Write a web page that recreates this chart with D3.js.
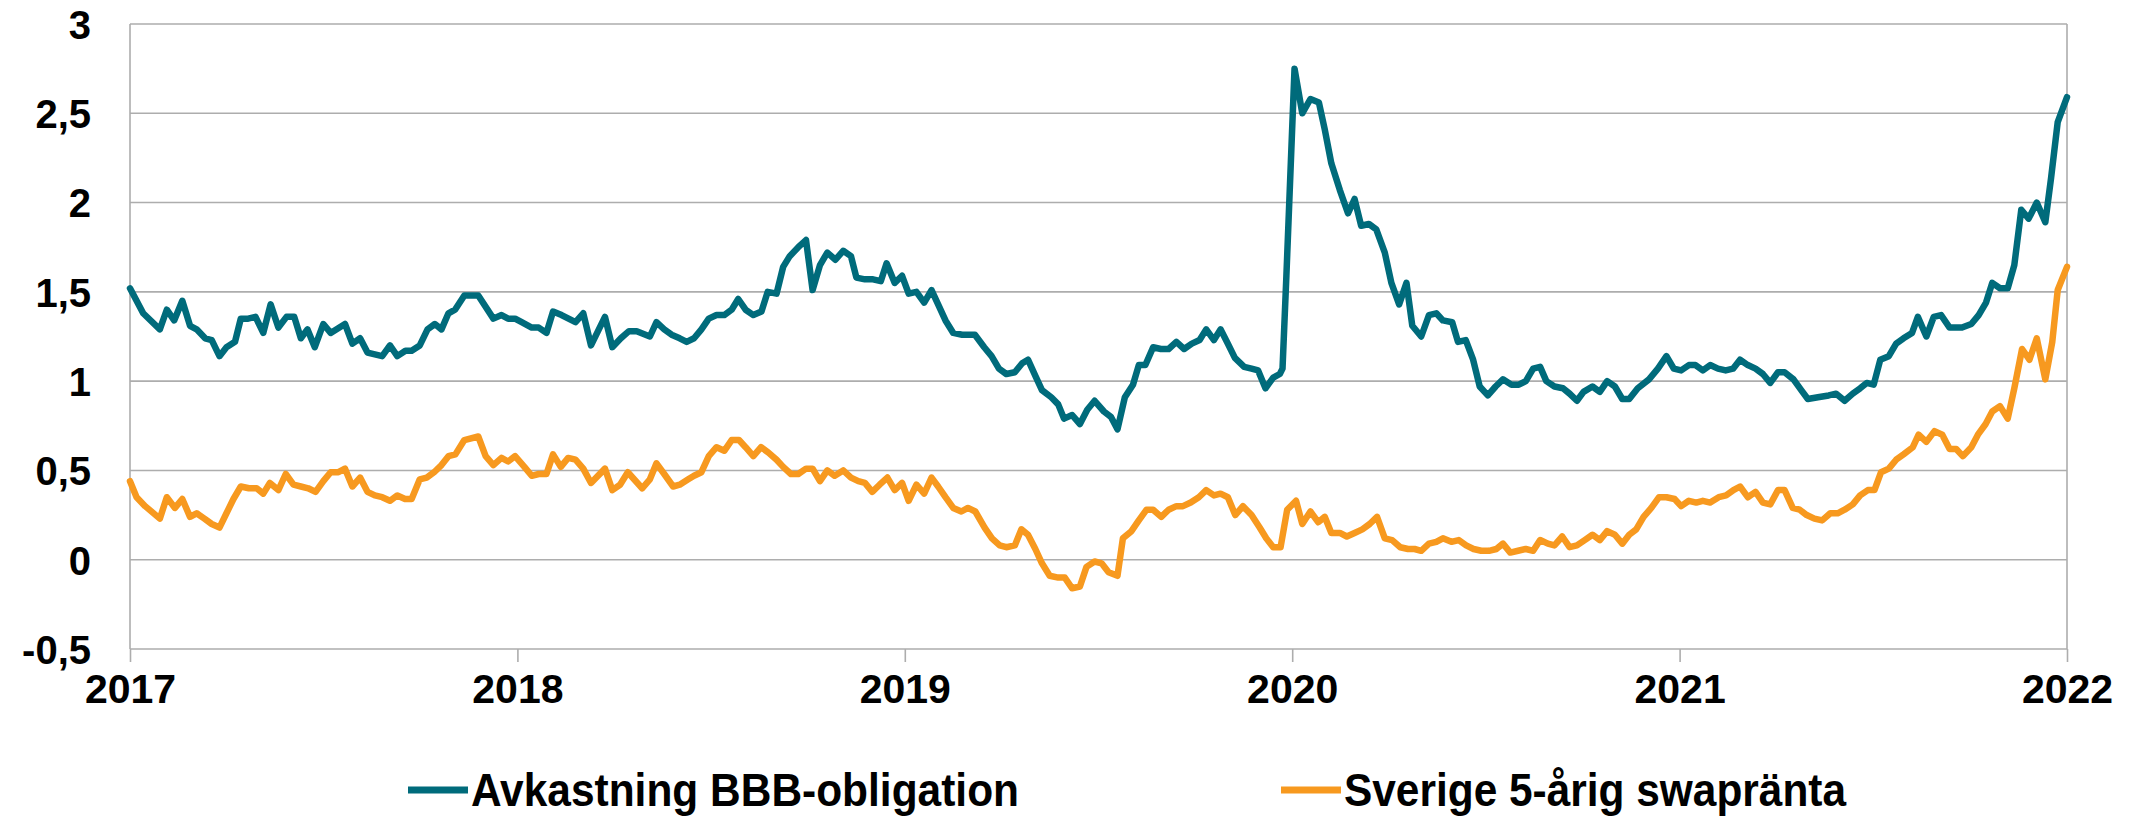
<!DOCTYPE html>
<html>
<head>
<meta charset="utf-8">
<script src="https://cdn.jsdelivr.net/npm/d3@7"></script>
<style>
  body { margin: 0; background: #fff; }
  svg text { font-family: "Liberation Sans", Arial, sans-serif; font-weight: bold; fill: #000; }
</style>
</head>
<body>
<div id="chart"></div>
<script>
// y-axis ticks and x-axis years
const yTicks = [-0.5, 0, 0.5, 1, 1.5, 2, 2.5, 3];
const years = [2017, 2018, 2019, 2020, 2021, 2022];
const seriesNames = ["Avkastning BBB-obligation", "Sverige 5-årig swapränta"];

// Avkastning BBB-obligation, [year, %]
const bbb = [
  [2017.000,1.52],[2017.034,1.38],[2017.077,1.29],[2017.095,1.40],[2017.114,1.34],[2017.135,1.45],[2017.155,1.31],
  [2017.172,1.29],[2017.194,1.24],[2017.211,1.23],[2017.231,1.14],[2017.249,1.19],[2017.271,1.22],[2017.286,1.35],
  [2017.305,1.35],[2017.324,1.36],[2017.344,1.27],[2017.363,1.43],[2017.383,1.30],[2017.404,1.36],[2017.424,1.36],
  [2017.441,1.24],[2017.458,1.29],[2017.477,1.19],[2017.499,1.32],[2017.518,1.27],[2017.555,1.32],[2017.574,1.21],
  [2017.594,1.24],[2017.613,1.16],[2017.651,1.14],[2017.671,1.20],[2017.690,1.14],[2017.711,1.17],[2017.727,1.17],
  [2017.748,1.20],[2017.768,1.29],[2017.787,1.32],[2017.804,1.29],[2017.822,1.38],[2017.839,1.40],[2017.863,1.48],
  [2017.899,1.48],[2017.938,1.35],[2017.959,1.37],[2017.976,1.35],
  [2017.994,1.35],[2018.011,1.33],[2018.037,1.30],[2018.055,1.30],[2018.075,1.27],[2018.092,1.39],[2018.114,1.37],
  [2018.150,1.33],[2018.170,1.38],[2018.190,1.20],[2018.226,1.36],[2018.245,1.19],[2018.267,1.24],[2018.288,1.28],
  [2018.308,1.28],[2018.342,1.25],[2018.359,1.33],[2018.379,1.29],[2018.398,1.26],[2018.419,1.24],[2018.437,1.22],
  [2018.456,1.24],[2018.475,1.29],[2018.494,1.35],[2018.514,1.37],[2018.534,1.37],[2018.553,1.40],[2018.570,1.46],
  [2018.589,1.40],[2018.609,1.37],[2018.630,1.39],[2018.646,1.50],[2018.669,1.49],[2018.686,1.64],[2018.703,1.70],
  [2018.725,1.75],[2018.745,1.79],[2018.762,1.51],[2018.781,1.65],[2018.800,1.72],[2018.821,1.68],[2018.841,1.73],
  [2018.861,1.70],[2018.875,1.58],[2018.897,1.57],[2018.918,1.57],[2018.938,1.56],[2018.953,1.66],[2018.974,1.55],
  [2018.993,1.59],
  [2019.010,1.49],[2019.030,1.50],[2019.050,1.44],[2019.069,1.51],[2019.086,1.43],[2019.105,1.34],[2019.125,1.27],
  [2019.148,1.26],[2019.181,1.26],[2019.205,1.19],[2019.224,1.14],[2019.243,1.07],[2019.262,1.04],[2019.284,1.05],
  [2019.303,1.10],[2019.318,1.12],[2019.337,1.03],[2019.354,0.95],[2019.378,0.91],[2019.396,0.87],[2019.411,0.79],
  [2019.432,0.81],[2019.452,0.76],[2019.471,0.84],[2019.490,0.89],[2019.514,0.83],[2019.532,0.80],[2019.549,0.73],
  [2019.568,0.91],[2019.589,0.98],[2019.604,1.09],[2019.621,1.09],[2019.641,1.19],[2019.661,1.18],[2019.681,1.18],
  [2019.701,1.22],[2019.721,1.18],[2019.741,1.21],[2019.761,1.23],[2019.778,1.29],[2019.798,1.23],[2019.815,1.29],
  [2019.834,1.21],[2019.852,1.13],[2019.876,1.08],[2019.895,1.07],[2019.912,1.06],[2019.931,0.96],[2019.951,1.02],
  [2019.968,1.04],[2019.975,1.07],[2019.985,1.59],
  [2020.006,2.75],[2020.026,2.50],[2020.047,2.58],[2020.069,2.56],[2020.084,2.41],[2020.101,2.22],[2020.123,2.07],
  [2020.144,1.94],[2020.161,2.02],[2020.178,1.87],[2020.198,1.88],[2020.217,1.85],[2020.239,1.72],[2020.256,1.55],
  [2020.276,1.43],[2020.295,1.55],[2020.310,1.31],[2020.333,1.25],[2020.353,1.37],[2020.372,1.38],[2020.389,1.34],
  [2020.413,1.33],[2020.428,1.22],[2020.448,1.23],[2020.467,1.12],[2020.484,0.97],[2020.505,0.92],[2020.525,0.97],
  [2020.544,1.01],[2020.566,0.98],[2020.585,0.98],[2020.603,1.00],[2020.622,1.07],[2020.640,1.08],[2020.656,1.00],
  [2020.677,0.97],[2020.699,0.96],[2020.716,0.93],[2020.735,0.89],[2020.752,0.94],[2020.775,0.97],[2020.794,0.94],
  [2020.813,1.00],[2020.833,0.97],[2020.852,0.90],[2020.870,0.90],[2020.892,0.96],[2020.921,1.01],[2020.944,1.07],
  [2020.966,1.14],[2020.985,1.07],
  [2021.004,1.06],[2021.024,1.09],[2021.041,1.09],[2021.060,1.06],[2021.079,1.09],[2021.099,1.07],[2021.119,1.06],
  [2021.138,1.07],[2021.156,1.12],[2021.176,1.09],[2021.196,1.07],[2021.215,1.04],[2021.234,0.99],[2021.254,1.05],
  [2021.271,1.05],[2021.294,1.01],[2021.314,0.95],[2021.331,0.90],[2021.357,0.91],[2021.385,0.92],[2021.404,0.93],
  [2021.426,0.89],[2021.447,0.93],[2021.466,0.96],[2021.483,0.99],[2021.501,0.98],[2021.518,1.12],[2021.540,1.14],
  [2021.559,1.21],[2021.578,1.24],[2021.600,1.27],[2021.615,1.36],[2021.637,1.25],[2021.656,1.36],[2021.675,1.37],
  [2021.697,1.30],[2021.729,1.30],[2021.753,1.32],[2021.772,1.37],[2021.791,1.44],[2021.807,1.55],[2021.827,1.52],
  [2021.847,1.52],[2021.864,1.65],[2021.882,1.96],[2021.901,1.91],[2021.922,2.00],[2021.944,1.89],[2021.959,2.14],
  [2021.976,2.45],[2022.000,2.59]
];

// Sverige 5-årig swapränta, [year, %]
const swap = [
  [2017.000,0.44],[2017.017,0.35],[2017.039,0.30],[2017.077,0.23],[2017.095,0.35],[2017.116,0.29],[2017.135,0.34],
  [2017.155,0.24],[2017.172,0.26],[2017.192,0.23],[2017.211,0.20],[2017.231,0.18],[2017.249,0.26],[2017.267,0.34],
  [2017.286,0.41],[2017.307,0.40],[2017.327,0.40],[2017.344,0.37],[2017.361,0.43],[2017.383,0.39],[2017.402,0.48],
  [2017.422,0.42],[2017.441,0.41],[2017.460,0.40],[2017.479,0.38],[2017.499,0.44],[2017.518,0.49],[2017.538,0.49],
  [2017.555,0.51],[2017.574,0.41],[2017.594,0.46],[2017.613,0.38],[2017.632,0.36],[2017.651,0.35],[2017.671,0.33],
  [2017.690,0.36],[2017.710,0.34],[2017.727,0.34],[2017.748,0.45],[2017.766,0.46],[2017.785,0.49],[2017.804,0.53],
  [2017.822,0.58],[2017.840,0.59],[2017.863,0.67],[2017.899,0.69],[2017.918,0.58],[2017.938,0.53],[2017.959,0.57],
  [2017.976,0.55],
  [2017.994,0.58],[2018.018,0.52],[2018.037,0.47],[2018.055,0.48],[2018.075,0.48],[2018.092,0.59],[2018.112,0.52],
  [2018.131,0.57],[2018.150,0.56],[2018.170,0.51],[2018.190,0.43],[2018.226,0.51],[2018.245,0.39],[2018.265,0.42],
  [2018.285,0.49],[2018.322,0.40],[2018.342,0.45],[2018.359,0.54],[2018.379,0.48],[2018.402,0.41],[2018.419,0.42],
  [2018.441,0.45],[2018.456,0.47],[2018.475,0.49],[2018.494,0.58],[2018.514,0.63],[2018.534,0.61],[2018.553,0.67],
  [2018.572,0.67],[2018.589,0.63],[2018.609,0.58],[2018.629,0.63],[2018.648,0.60],[2018.669,0.56],[2018.686,0.52],
  [2018.706,0.48],[2018.725,0.48],[2018.745,0.51],[2018.762,0.51],[2018.781,0.44],[2018.800,0.50],[2018.819,0.47],
  [2018.841,0.50],[2018.861,0.46],[2018.880,0.44],[2018.897,0.43],[2018.916,0.38],[2018.935,0.42],[2018.955,0.46],
  [2018.974,0.39],[2018.993,0.43],
  [2019.010,0.33],[2019.030,0.42],[2019.050,0.37],[2019.069,0.46],[2019.086,0.41],[2019.105,0.35],[2019.125,0.29],
  [2019.146,0.27],[2019.163,0.29],[2019.182,0.27],[2019.206,0.18],[2019.225,0.12],[2019.245,0.08],[2019.262,0.07],
  [2019.284,0.08],[2019.301,0.17],[2019.318,0.14],[2019.337,0.06],[2019.354,-0.02],[2019.374,-0.09],[2019.396,-0.10],
  [2019.413,-0.10],[2019.432,-0.16],[2019.452,-0.15],[2019.469,-0.04],[2019.490,-0.01],[2019.508,-0.02],[2019.526,-0.07],
  [2019.549,-0.09],[2019.563,0.12],[2019.585,0.16],[2019.604,0.22],[2019.624,0.28],[2019.641,0.28],[2019.662,0.24],
  [2019.681,0.28],[2019.701,0.30],[2019.718,0.30],[2019.738,0.32],[2019.759,0.35],[2019.778,0.39],[2019.798,0.36],
  [2019.815,0.37],[2019.834,0.35],[2019.853,0.25],[2019.873,0.30],[2019.895,0.25],[2019.916,0.18],[2019.933,0.12],
  [2019.951,0.07],[2019.970,0.07],[2019.987,0.28],
  [2020.010,0.33],[2020.026,0.20],[2020.047,0.27],[2020.067,0.21],[2020.084,0.24],[2020.101,0.15],[2020.123,0.15],
  [2020.141,0.13],[2020.161,0.15],[2020.181,0.17],[2020.200,0.20],[2020.219,0.24],[2020.239,0.12],[2020.258,0.11],
  [2020.279,0.07],[2020.299,0.06],[2020.316,0.06],[2020.333,0.05],[2020.353,0.09],[2020.372,0.10],[2020.389,0.12],
  [2020.411,0.10],[2020.430,0.11],[2020.449,0.08],[2020.468,0.06],[2020.488,0.05],[2020.508,0.05],[2020.527,0.06],
  [2020.544,0.09],[2020.563,0.04],[2020.583,0.05],[2020.603,0.06],[2020.622,0.05],[2020.640,0.11],[2020.660,0.09],
  [2020.677,0.08],[2020.697,0.13],[2020.716,0.07],[2020.735,0.08],[2020.755,0.11],[2020.775,0.14],[2020.794,0.11],
  [2020.813,0.16],[2020.833,0.14],[2020.852,0.09],[2020.870,0.14],[2020.888,0.17],[2020.907,0.24],[2020.927,0.29],
  [2020.947,0.35],[2020.966,0.35],[2020.987,0.34],
  [2021.004,0.30],[2021.024,0.33],[2021.043,0.32],[2021.060,0.33],[2021.079,0.32],[2021.101,0.35],[2021.120,0.36],
  [2021.139,0.39],[2021.156,0.41],[2021.176,0.35],[2021.196,0.38],[2021.215,0.32],[2021.234,0.31],[2021.254,0.39],
  [2021.271,0.39],[2021.292,0.29],[2021.310,0.28],[2021.328,0.25],[2021.348,0.23],[2021.368,0.22],[2021.389,0.26],
  [2021.408,0.26],[2021.426,0.28],[2021.447,0.31],[2021.466,0.36],[2021.486,0.39],[2021.503,0.39],[2021.520,0.49],
  [2021.540,0.51],[2021.559,0.56],[2021.578,0.59],[2021.602,0.63],[2021.617,0.70],[2021.637,0.66],[2021.658,0.72],
  [2021.678,0.70],[2021.697,0.62],[2021.714,0.62],[2021.731,0.58],[2021.753,0.63],[2021.770,0.70],[2021.790,0.76],
  [2021.807,0.83],[2021.827,0.86],[2021.847,0.79],[2021.864,0.96],[2021.884,1.18],[2021.903,1.12],[2021.922,1.24],
  [2021.944,1.01],[2021.962,1.22],[2021.976,1.51],[2022.000,1.64]
];

const colors = ["#006B7B", "#F7991F"];

const W = 2133, H = 819;
const margin = {top: 24, right: 66, bottom: 170, left: 130};

const svg = d3.select("#chart").append("svg")
  .attr("width", W)
  .attr("height", H);

const x = d3.scaleLinear()
  .domain([2017, 2022])
  .range([margin.left, W - margin.right]);

const y = d3.scaleLinear()
  .domain([-0.5, 3])
  .range([H - margin.bottom, margin.top]);

// gridlines
svg.append("g")
  .selectAll("line")
  .data(yTicks)
  .join("line")
    .attr("x1", x(2017))
    .attr("x2", x(2022))
    .attr("y1", d => y(d))
    .attr("y2", d => y(d))
    .attr("stroke", "#ADADAD")
    .attr("stroke-width", 1.6);

// left and right frame
svg.append("g")
  .selectAll("line")
  .data([2017, 2022])
  .join("line")
    .attr("x1", d => x(d))
    .attr("x2", d => x(d))
    .attr("y1", y(3))
    .attr("y2", y(-0.5))
    .attr("stroke", "#ADADAD")
    .attr("stroke-width", 1.6);

// y axis labels (comma decimals, plain hyphen for minus)
const yAxis = svg.append("g")
  .attr("transform", `translate(${x(2017)},0)`)
  .call(d3.axisLeft(y).tickValues(yTicks).tickSize(0).tickPadding(39)
    .tickFormat(d => String(d).replace(".", ",")));
yAxis.select(".domain").remove();
yAxis.selectAll("text")
  .attr("font-size", 40)
  .attr("dy", "0.36em")
  .style("font-family", '"Liberation Sans", Arial, sans-serif')
  .style("font-weight", "bold");

// x axis with year ticks below the plot
const xAxis = svg.append("g")
  .attr("transform", `translate(0,${y(-0.5)})`)
  .call(d3.axisBottom(x).tickValues(years).tickSize(13).tickPadding(12)
    .tickFormat(d3.format("d")));
xAxis.select(".domain").remove();
xAxis.selectAll("line").attr("stroke", "#ADADAD").attr("stroke-width", 1.6);
xAxis.selectAll("text")
  .attr("font-size", 41)
  .attr("dy", "0.71em")
  .attr("fill", "#000")
  .style("font-family", '"Liberation Sans", Arial, sans-serif')
  .style("font-weight", "bold");

// lines
const line = d3.line()
  .x(d => x(d[0]))
  .y(d => y(d[1]));

svg.append("g")
  .selectAll("path")
  .data([bbb, swap])
  .join("path")
    .attr("d", line)
    .attr("fill", "none")
    .attr("stroke", (d, i) => colors[i])
    .attr("stroke-width", 6.5)
    .attr("stroke-linejoin", "round")
    .attr("stroke-linecap", "round");

// legend
const legendX = [408, 1281];
const legendW = [548, 502];
const legend = svg.append("g")
  .selectAll("g")
  .data(seriesNames)
  .join("g")
    .attr("transform", (d, i) => `translate(${legendX[i]},790)`);
legend.append("line")
  .attr("x1", 0).attr("x2", 60)
  .attr("stroke", (d, i) => colors[i])
  .attr("stroke-width", 7);
legend.append("text")
  .attr("x", 63)
  .attr("y", 16)
  .attr("font-size", 47)
  .attr("textLength", (d, i) => legendW[i])
  .attr("lengthAdjust", "spacingAndGlyphs")
  .text(d => d);
</script>
</body>
</html>
